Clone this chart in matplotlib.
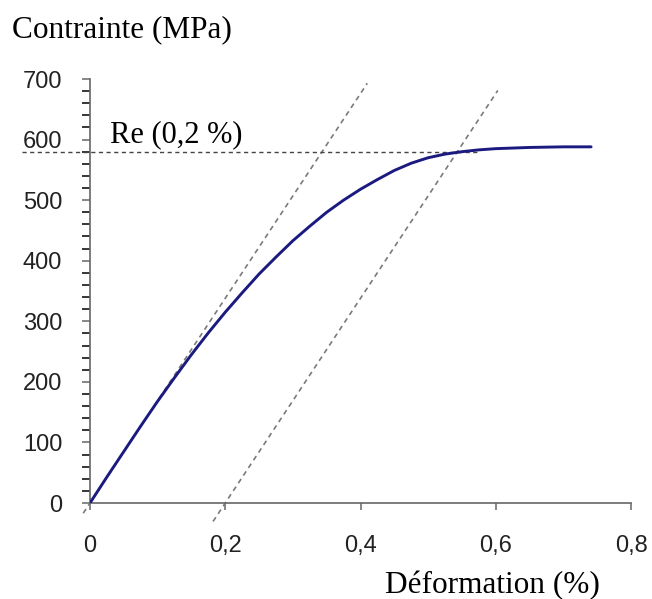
import numpy as np
import matplotlib.pyplot as plt
from matplotlib.ticker import MultipleLocator

# courbe de traction
deformation = [0, 0.025, 0.05, 0.075, 0.10, 0.125, 0.15, 0.175, 0.20, 0.225, 0.25,
               0.275, 0.30, 0.325, 0.35, 0.375, 0.40, 0.425, 0.45, 0.475, 0.50,
               0.525, 0.55, 0.575, 0.60, 0.65, 0.70, 0.741]
contrainte = [0, 43, 85, 127, 168, 207, 245, 281, 315, 347, 378,
              406, 433, 457, 480, 500, 518, 534, 549, 561, 570,
              576, 580, 583, 585, 587, 588, 588]

# droites de pente E (module) : passant par 0 et décalée de 0,2 %
module_E = 1690
decalages = [0.0, 0.2]
droite_x = [[-0.01, 0.41], [0.182, 0.603]]
Re = 579
re_x = [-0.10, 0.577]

xticks = [0, 0.2, 0.4, 0.6, 0.8]
xlabels = ['0', '0,2', '0,4', '0,6', '0,8']
yticks = [0, 100, 200, 300, 400, 500, 600, 700]

fig = plt.figure(figsize=(6.52, 5.99), dpi=100)
ax = fig.add_axes([90 / 652, 96 / 599, 541 / 652, 424 / 599])

ax.plot(deformation, contrainte, color='#1a1a80', lw=2.1, solid_capstyle='round',
        solid_joinstyle='round', zorder=3)

for d, xs in zip(decalages, droite_x):
    xs = np.array(xs)
    ax.plot(xs, module_E * (xs - d), color='#7a7a7a', lw=1.2, ls=(0, (3, 2.5)), clip_on=False)
ax.plot(re_x, [Re, Re], color='#444444', lw=1.0, ls=(0, (3, 2.5)), clip_on=False)

ax.text(0.03, 596, 'Re (0,2 %)', family='Liberation Serif', fontsize=22, va='baseline')

ax.set_xlim(0, 0.8)
ax.set_ylim(0, 700)
ax.set_xticks(xticks)
ax.set_xticklabels(xlabels)
ax.set_yticks(yticks)
ax.yaxis.set_minor_locator(MultipleLocator(20))
for s in ['top', 'right']:
    ax.spines[s].set_visible(False)
for s in ['left', 'bottom']:
    ax.spines[s].set_color('#666666')
    ax.spines[s].set_linewidth(1.2)
ax.tick_params(axis='both', colors='#666666', labelcolor='#222222', width=1.1)
ax.tick_params(axis='y', which='major', length=6, pad=14, labelsize=17)
ax.tick_params(axis='y', which='minor', length=6, width=1.1)
ax.tick_params(axis='x', which='major', length=5, pad=18, labelsize=17)
for lab in ax.get_xticklabels() + ax.get_yticklabels():
    lab.set_family('Liberation Sans')

fig.text(12 / 652, 1 - 37 / 599, 'Contrainte (MPa)', family='Liberation Serif',
         fontsize=22.5, va='baseline', ha='left')
fig.text(600 / 652, 6 / 599, 'Déformation (%)', family='Liberation Serif',
         fontsize=22.5, va='baseline', ha='right')

fig.savefig('out.png', dpi=100)
